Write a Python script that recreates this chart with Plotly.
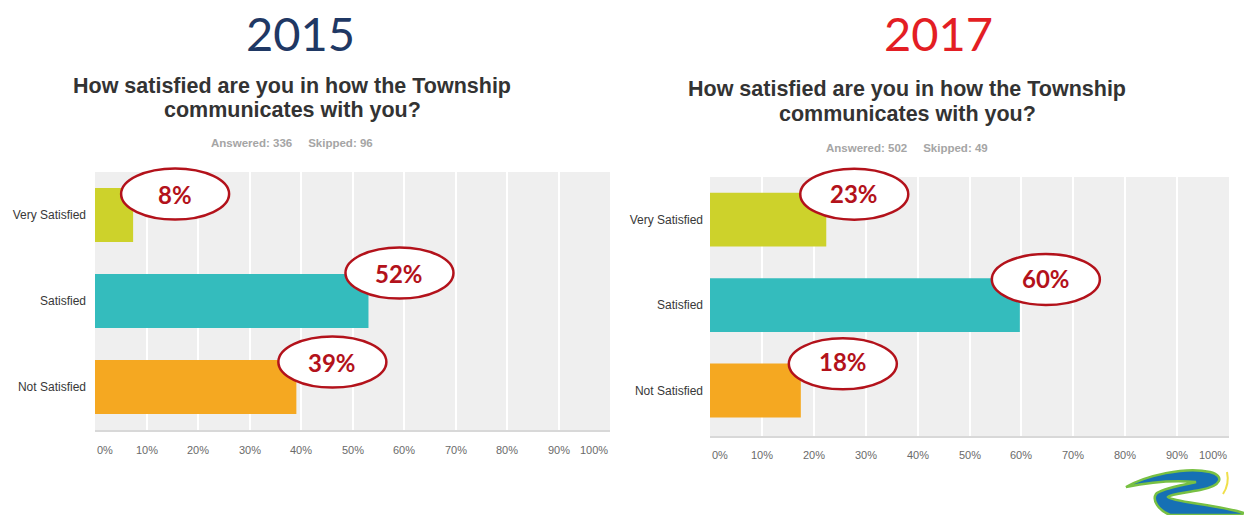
import plotly.graph_objects as go

W, H = 1244, 515

# ---------------- data ----------------
categories = ["Very Satisfied", "Satisfied", "Not Satisfied"]
values_2015 = [7.4, 53.1, 39.1]
values_2017 = [22.4, 59.7, 17.5]
labels_2015 = ["8%", "52%", "39%"]
labels_2017 = ["23%", "60%", "18%"]
years = ["2015", "2017"]
answered = [336, 502]
skipped = [96, 49]
question_lines = ["How satisfied are you in how the Township", "communicates with you?"]
tick_values = [0, 10, 20, 30, 40, 50, 60, 70, 80, 90, 100]
tick_labels = ["0%", "10%", "20%", "30%", "40%", "50%", "60%", "70%", "80%", "90%", "100%"]

# ---------------- styles ----------------
bar_colors = ["#cdd22b", "#34bcbd", "#f5a821"]
year_colors = ["#1f3864", "#e31e24"]
callout_red = "#b3121b"
# pixel offsets of the callout ellipse centre from the bar end (dx right, dy up)
callout_offsets = [
    [(42, 21), (31, 28), (36, 25)],
    [(28, 26), (26, 27), (42, 29)],
]
ell_w, ell_h = 108, 51


def px_x(p):
    return p / W


def px_y(p):
    return 1 - p / H


# plot areas in pixels: (left, right, top, bottom)
areas = [(95, 610, 172, 430), (710, 1229, 177, 436)]
centers_x = [292, 907]
year_cx = [300, 938]
q_y = [[86, 110], [89, 114]]
ans_y = [143, 148]
tick_y_shift = [-20, -19]

fig = go.Figure()

for i, (vals, labs) in enumerate([(values_2015, labels_2015), (values_2017, labels_2017)]):
    xa = "x" if i == 0 else "x2"
    ya = "y" if i == 0 else "y2"
    fig.add_trace(go.Bar(
        x=vals, y=categories, orientation="h",
        marker=dict(color=bar_colors, line=dict(width=0)),
        width=0.63, xaxis=xa, yaxis=ya, showlegend=False, hoverinfo="skip",
    ))
    l, r, t, b = areas[i]
    axis_x = dict(
        domain=[px_x(l), px_x(r)], range=[0, 100], tickvals=tick_values,
        showticklabels=False, showgrid=True, gridcolor="#ffffff", gridwidth=1.5,
        zeroline=False, showline=True, linecolor="#d8d8d8", linewidth=2,
        anchor=ya, fixedrange=True,
    )
    axis_y = dict(
        domain=[px_y(b), px_y(t)], autorange="reversed", categoryorder="array",
        categoryarray=categories, showgrid=False, zeroline=False, showline=False,
        tickfont=dict(family="Liberation Sans, Arial", size=12, color="#383838"),
        ticks="", ticklabelstandoff=8 if i == 0 else 6,
        anchor=xa, fixedrange=True,
    )
    if i == 0:
        fig.update_layout(xaxis=axis_x, yaxis=axis_y)
    else:
        fig.update_layout(xaxis2=axis_x, yaxis2=axis_y)

    # tick labels (end labels kept inside the plot like the source)
    for tv, tl in zip(tick_values, tick_labels):
        anchor = "left" if tv == tick_values[0] else ("right" if tv == tick_values[-1] else "center")
        fig.add_annotation(
            x=tv, y=0, xref=xa, yref=f"{ya} domain", text=tl, showarrow=False,
            xanchor=anchor, yanchor="middle", yshift=tick_y_shift[i],
            font=dict(family="Liberation Sans, Arial", size=11, color="#6a6a6a"),
        )

    # callout ellipses + labels
    n = len(categories)
    for k, (cat, v, lab, (dx, dy)) in enumerate(zip(categories, vals, labs, callout_offsets[i])):
        cat_frac = 1 - (k + 0.5) / n  # category centre within the (reversed) y domain
        fig.add_shape(
            type="circle", xref=xa, yref=f"{ya} domain", xsizemode="pixel", ysizemode="pixel",
            xanchor=v, yanchor=cat_frac,
            x0=dx - ell_w / 2, x1=dx + ell_w / 2, y0=dy - ell_h / 2, y1=dy + ell_h / 2,
            line=dict(color=callout_red, width=2.5), fillcolor="#ffffff", layer="above",
        )
        fig.add_annotation(
            x=v, y=cat, xref=xa, yref=ya, text=f"<b>{lab}</b>", showarrow=False,
            xshift=dx, yshift=dy, xanchor="center", yanchor="middle",
            font=dict(family="Lato, Open Sans", size=24, color=callout_red),
        )

    # year heading
    fig.add_annotation(
        x=px_x(year_cx[i]), y=px_y(33), xref="paper", yref="paper", text=years[i],
        showarrow=False, xanchor="center", yanchor="middle",
        font=dict(family="Lato, Open Sans", size=47, color=year_colors[i]),
    )
    # question (two lines)
    for line, yy in zip(question_lines, q_y[i]):
        fig.add_annotation(
            x=px_x(centers_x[i]), y=px_y(yy), xref="paper", yref="paper",
            text=f"<b>{line}</b>", showarrow=False, xanchor="center", yanchor="middle",
            font=dict(family="Liberation Sans, Arial", size=21.5, color="#333333"),
        )
    # answered / skipped
    fig.add_annotation(
        x=px_x(centers_x[i]), y=px_y(ans_y[i]), xref="paper", yref="paper",
        text=f"<b>Answered: {answered[i]}&nbsp;&nbsp;&nbsp;&nbsp; Skipped: {skipped[i]}</b>",
        showarrow=False, xanchor="center", yanchor="middle",
        font=dict(family="Liberation Sans, Arial", size=11.5, color="#a5a5a5"),
    )


# decorative logo (bottom-right)
def path(points, close=True):
    s = ""
    for cmd, pts in points:
        coords = " ".join(f"{px_x(a):.5f},{px_y(b):.5f}" for a, b in pts)
        s += f"{cmd}{coords} "
    return s + ("Z" if close else "")


blue_body = path([
    ("M", [(1126, 487)]),
    ("C", [(1145, 476), (1185, 466), (1210, 472)]),
    ("C", [(1225, 476), (1222, 486), (1200, 490)]),
    ("C", [(1185, 493), (1170, 494), (1168, 497)]),
    ("C", [(1172, 502), (1215, 504), (1244, 513)]),
    ("L", [(1240, 515)]),
    ("L", [(1170, 515)]),
    ("C", [(1158, 510), (1152, 500), (1156, 494)]),
    ("C", [(1162, 488), (1185, 485), (1196, 482)]),
    ("C", [(1175, 480), (1150, 482), (1126, 487)]),
])
fig.add_shape(type="path", xref="paper", yref="paper", path=blue_body,
              fillcolor="#1670b4", line=dict(color="#78c043", width=2.5), layer="above")
fig.add_shape(type="path", xref="paper", yref="paper",
              path=path([("M", [(1227, 472)]), ("C", [(1229, 481), (1227, 488), (1223, 494)])], close=False),
              line=dict(color="#f0df4a", width=2), layer="above")

fig.update_layout(
    width=W, height=H, margin=dict(l=0, r=0, t=0, b=0),
    paper_bgcolor="#ffffff", plot_bgcolor="#efefef",
    showlegend=False,
)

fig.write_html("out.html", config={"displayModeBar": False})
